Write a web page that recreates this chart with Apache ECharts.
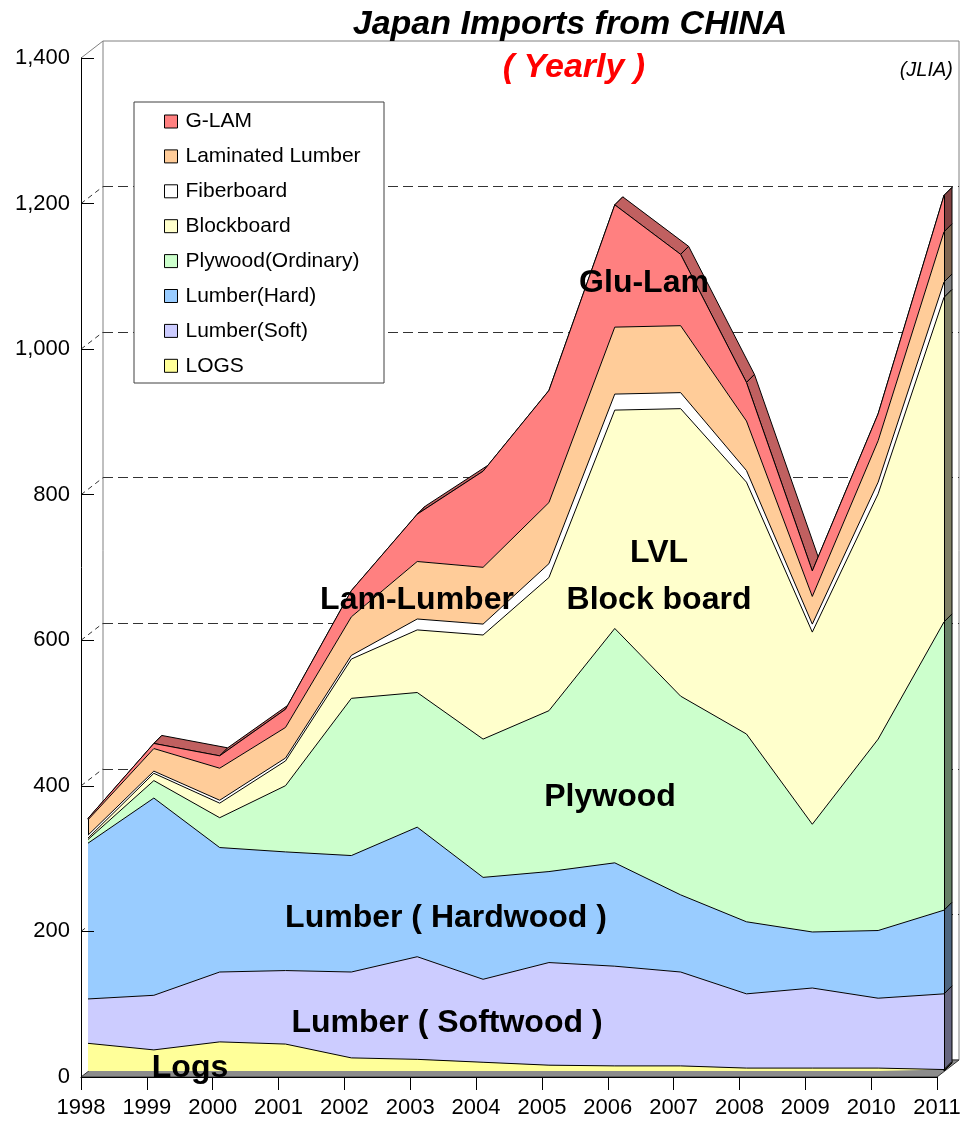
<!DOCTYPE html>
<html>
<head>
<meta charset="utf-8">
<title>Japan Imports from CHINA</title>
<script src="https://cdn.jsdelivr.net/npm/echarts@6/dist/echarts.min.js"></script>
<style>
  html, body { margin: 0; padding: 0; background: #fff; }
  #chart { width: 962px; height: 1123px; }
</style>
</head>
<body>
<div id="chart"></div>
<script>
// values (1000 m3), stacked bottom-up
const years      = ['1998', '1999', '2000', '2001', '2002', '2003', '2004', '2005', '2006', '2007', '2008', '2009', '2010', '2011'];
const logs       = [38, 29, 40, 37, 18, 16, 12, 8, 7, 7, 4, 4, 4, 2];
const lumberSoft = [61, 75, 96, 101, 118, 141, 114, 141, 137, 129, 102, 110, 96, 104];
const lumberHard = [214, 271, 171, 163, 160, 178, 140, 125, 142, 106, 99, 77, 93, 115];
const plywood    = [5, 24, 41, 91, 216, 185, 190, 221, 322, 273, 258, 148, 263, 396];
const blockboard = [2, 10, 20, 34, 54, 86, 143, 183, 300, 395, 346, 264, 337, 446];
const fiberboard = [4, 3, 4, 4, 5, 15, 15, 19, 22, 22, 16, 11, 16, 21];
const laminated  = [21, 31, 44, 42, 53, 79, 78, 84, 92, 92, 68, 38, 57, 69];
const gLam       = [2, 7, 17, 25, 36, 65, 132, 154, 168, 98, 53, 35, 37, 50];

const seriesNames = ['LOGS', 'Lumber(Soft)', 'Lumber(Hard)', 'Plywood(Ordinary)', 'Blockboard', 'Fiberboard', 'Laminated Lumber', 'G-LAM'];
const seriesData  = [logs, lumberSoft, lumberHard, plywood, blockboard, fiberboard, laminated, gLam];
const faceColors  = ['#FFFF99', '#CCCCFF', '#99CCFF', '#CCFFCC', '#FFFFCC', '#FFFFFF', '#FFCC99', '#FF8080'];
const sideColors  = ['#80804D', '#666680', '#4D6680', '#668066', '#808066', '#808080', '#806650', '#804040'];
const topColor = '#C06060';

const labels = [
  { text: 'Glu-Lam', x: 644, y: 283 },
  { text: 'Lam-Lumber', x: 417, y: 600 },
  { text: 'LVL', x: 659, y: 553 },
  { text: 'Block board', x: 659, y: 600 },
  { text: 'Plywood', x: 610, y: 797 },
  { text: 'Lumber ( Hardwood )', x: 446, y: 918 },
  { text: 'Lumber ( Softwood )', x: 447, y: 1023 },
  { text: 'Logs', x: 190, y: 1068 }
];

const FONT = '"Liberation Sans", Arial, sans-serif';
const FACE = [7, -6];    // front face of the areas, relative to the axis plane
const DEPTH = [8, -8];   // thickness of the areas
const BACK = [22, -17];  // back wall
const last = years.length - 1;

const front = { left: 81, right: 25, top: 58, bottom: 46 };
function shifted(off) {
  return {
    left: front.left + off[0], right: front.right - off[0],
    top: front.top + off[1], bottom: front.bottom - off[1],
    outerBoundsMode: 'none'
  };
}
function add(p, off) {
  return [p[0] + off[0], p[1] + off[1]];
}

// cumulative tops
const cum = [];
let run = years.map(() => 0);
seriesData.forEach(d => {
  const lo = run;
  run = run.map((v, i) => v + d[i]);
  cum.push({ lo: lo, hi: run });
});
const totals = run;

// depth pieces: top surface of the stack and the right side face
const depthData = [];
for (let i = 0; i < last; i++) {
  depthData.push([0, i, totals[i], i + 1, totals[i + 1]]);
}
cum.forEach((c, k) => {
  depthData.push([1, last, c.lo[last], c.hi[last], k]);
});

function renderDepth(params, api) {
  let pts, fill;
  if (api.value(0) === 0) {
    const a = api.coord([api.value(1), api.value(2)]);
    const b = api.coord([api.value(3), api.value(4)]);
    pts = [a, b, add(b, DEPTH), add(a, DEPTH)];
    fill = topColor;
  } else {
    const lo = api.coord([api.value(1), api.value(2)]);
    const hi = api.coord([api.value(1), api.value(3)]);
    pts = [lo, hi, add(hi, DEPTH), add(lo, DEPTH)];
    fill = sideColors[api.value(4)];
  }
  return {
    type: 'polygon',
    shape: { points: pts },
    style: { fill: fill, stroke: '#000', lineWidth: 1 }
  };
}

// floor and the tick connectors of the 3D frame
const frameData = [[0, 0]];
for (let v = 200; v < 1400; v += 200) frameData.push([1, v]);
frameData.push([2, 1400]);

function renderFrame(params, api) {
  const kind = api.value(0);
  if (kind === 0) {
    const a = api.coord([0, 0]);
    const b = api.coord([last, 0]);
    return {
      type: 'polygon',
      shape: { points: [a, b, add(b, BACK), add(a, BACK)] },
      style: { fill: '#8C8C8C', stroke: '#333', lineWidth: 1 }
    };
  }
  const p = api.coord([0, api.value(1)]);
  const q = add(p, BACK);
  return {
    type: 'line',
    shape: { x1: p[0], y1: p[1], x2: q[0], y2: q[1] },
    style: kind === 1
      ? { stroke: '#333', lineWidth: 1, lineDash: [5, 4] }
      : { stroke: '#808080', lineWidth: 1 }
  };
}

const areaSeries = seriesNames.map((name, k) => {
  const s = {
    name: name,
    type: 'line',
    stack: 'total',
    xAxisIndex: 2,
    yAxisIndex: 2,
    data: seriesData[k],
    symbol: 'none',
    silent: true,
    z: 10 - k,
    itemStyle: { color: faceColors[k] },
    lineStyle: { color: '#000', width: 1 },
    areaStyle: { color: faceColors[k], opacity: 1 },
    emphasis: { disabled: true }
  };
  if (k === 0) {
    // vertical front edges at both ends of the stack
    s.markLine = {
      silent: true,
      symbol: 'none',
      label: { show: false },
      lineStyle: { color: '#000', width: 1, type: 'solid' },
      data: [
        [{ coord: [years[0], 0] }, { coord: [years[0], totals[0]] }],
        [{ coord: [years[last], 0] }, { coord: [years[last], totals[last]] }]
      ]
    };
  }
  return s;
});

const chart = echarts.init(document.getElementById('chart'));

chart.setOption({
  animation: false,
  backgroundColor: '#fff',
  textStyle: { fontFamily: FONT },
  title: [
    {
      text: 'Japan Imports from CHINA',
      left: 570, top: 8, textAlign: 'center', padding: 0,
      textStyle: { fontFamily: FONT, fontSize: 34, fontWeight: 'bold', fontStyle: 'italic', color: '#000' }
    },
    {
      text: '( Yearly )',
      left: 574, top: 51, textAlign: 'center', padding: 0,
      textStyle: { fontFamily: FONT, fontSize: 34, fontWeight: 'bold', fontStyle: 'italic', color: '#FF0000' }
    },
    {
      text: '(JLIA)',
      right: 9, top: 60, padding: 0,
      textStyle: { fontFamily: FONT, fontSize: 20, fontWeight: 'normal', fontStyle: 'italic', color: '#000' }
    }
  ],
  legend: {
    data: seriesNames.slice().reverse(),
    orient: 'vertical',
    left: 164,
    top: 111,
    padding: 0,
    itemGap: 13.9,
    itemWidth: 13,
    itemHeight: 13,
    icon: 'rect',
    selectedMode: false,
    z: 20,
    itemStyle: { borderColor: '#000', borderWidth: 1 },
    textStyle: { fontFamily: FONT, fontSize: 21, lineHeight: 20.5, color: '#000', padding: [0, 0, 0, 3] }
  },
  grid: [
    Object.assign({ show: true, borderColor: '#808080', borderWidth: 1, backgroundColor: 'transparent' }, shifted(BACK)),
    shifted([0, 0]),
    shifted(FACE)
  ],
  xAxis: [
    { gridIndex: 0, type: 'category', data: years, boundaryGap: false, show: false },
    {
      gridIndex: 1, type: 'category', data: years, boundaryGap: false, z: 12,
      axisLine: { show: true, lineStyle: { color: '#000', width: 1 } },
      axisTick: { show: true, interval: 0, length: 13, lineStyle: { color: '#000' } },
      axisLabel: { interval: 0, margin: 20, fontSize: 22, color: '#000', fontFamily: FONT },
      splitLine: { show: false }
    },
    { gridIndex: 2, type: 'category', data: years, boundaryGap: false, show: false }
  ],
  yAxis: [
    {
      gridIndex: 0, type: 'value', min: 0, max: 1400, interval: 200,
      axisLine: { show: false }, axisTick: { show: false }, axisLabel: { show: false },
      splitLine: {
        show: true, showMinLine: false, showMaxLine: false,
        lineStyle: { color: '#333', width: 1, type: [10, 5] }
      }
    },
    {
      gridIndex: 1, type: 'value', min: 0, max: 1400, interval: 200, z: 12,
      axisLine: { show: true, lineStyle: { color: '#000', width: 1 } },
      axisTick: { show: true, inside: true, length: 13, lineStyle: { color: '#000' } },
      axisLabel: {
        margin: 11, fontSize: 22, color: '#000', fontFamily: FONT,
        formatter: v => v.toLocaleString('en-US')
      },
      splitLine: { show: false }
    },
    { gridIndex: 2, type: 'value', min: 0, max: 1400, show: false }
  ],
  series: [
    {
      type: 'custom',
      name: 'frame',
      xAxisIndex: 1,
      yAxisIndex: 1,
      z: 1,
      silent: true,
      clip: false,
      renderItem: renderFrame,
      data: frameData
    },
    {
      type: 'custom',
      name: 'depth',
      xAxisIndex: 2,
      yAxisIndex: 2,
      z: 2,
      silent: true,
      clip: false,
      renderItem: renderDepth,
      data: depthData
    }
  ].concat(areaSeries),
  graphic: [
    {
      type: 'rect',
      z: 19,
      silent: true,
      shape: { x: 134, y: 102, width: 250, height: 281 },
      style: { fill: '#fff', stroke: '#404040', lineWidth: 1 }
    }
  ].concat(labels.map(l => ({
    type: 'text',
    z: 25,
    silent: true,
    x: l.x,
    y: l.y,
    style: {
      text: l.text,
      fontFamily: FONT,
      fontSize: 32,
      fontWeight: 'bold',
      fill: '#000',
      textAlign: 'center',
      textVerticalAlign: 'middle'
    }
  })))
});
</script>
</body>
</html>
